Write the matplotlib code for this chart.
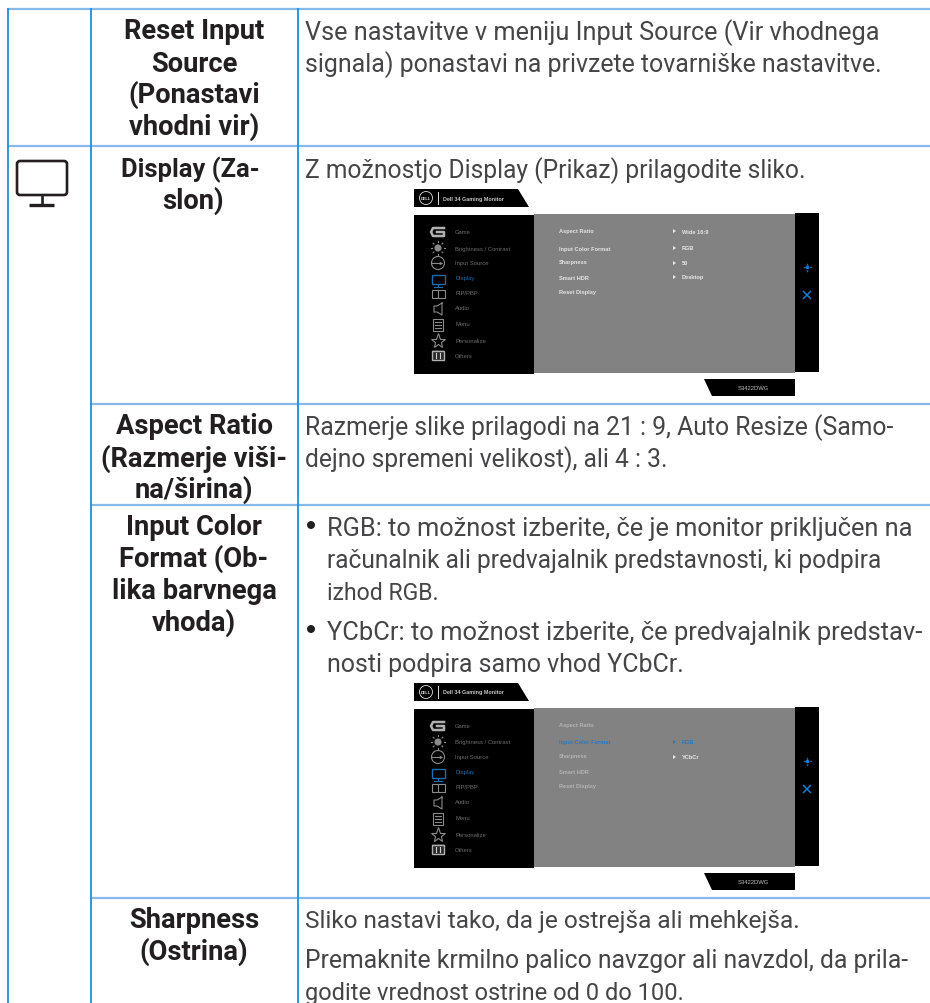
import matplotlib
matplotlib.use('Agg')
import matplotlib.pyplot as plt
from matplotlib.patches import Polygon, Rectangle, Circle, FancyBboxPatch

# Left column headings: text and baseline in pixels
head_lines = ['Reset Input', 'Source', '(Ponastavi', 'vhodni vir)',
              'Display (Za-', 'slon)',
              'Aspect Ratio', '(Razmerje viši-', 'na/širina)',
              'Input Color', 'Format (Ob-', 'lika barvnega', 'vhoda)',
              'Sharpness', '(Ostrina)']
head_base = [39, 72, 103, 135, 177, 209, 434, 467, 498, 535, 567, 599, 631, 928, 960]
head_center = [194, 194, 194, 194, 190, 193, 194, 194, 194, 194, 194, 194, 194, 194, 194]

# Right column text
body_lines = ['Vse nastavitve v meniju Input Source (Vir vhodnega',
              'signala) ponastavi na privzete tovarniške nastavitve.',
              'Z možnostjo Display (Prikaz) prilagodite sliko.',
              'Razmerje slike prilagodi na 21 : 9, Auto Resize (Samo-',
              'dejno spremeni velikost), ali 4 : 3.',
              'Sliko nastavi tako, da je ostrejša ali mehkejša.',
              'Premaknite krmilno palico navzgor ali navzdol, da prila-',
              'godite vrednost ostrine od 0 do 100.']
body_base = [40, 72, 178, 435, 467, 928, 968, 1000]
body_size = [18.2, 17.9, 17.7, 17.87, 17.7, 17.6, 17.8, 17.0]

bullet_lines = ['RGB: to možnost izberite, če je monitor priključen na',
                'računalnik ali predvajalnik predstavnosti, ki podpira',
                'izhod RGB.',
                'YCbCr: to možnost izberite, če predvajalnik predstav-',
                'nosti podpira samo vhod YCbCr.']
bullet_base = [536, 568, 600, 640, 672]
bullet_size = [18.3, 17.66, 16.6, 18.35, 17.95]
bullet_first = [True, False, False, True, False]

# Table rules
rule_y_full = [9.5, 146.5]
rule_y_inner = [404.5, 506, 899]
rule_x = [7.5, 90.5, 297.5]

# On screen menu
menu_items = ['Game', 'Brightness / Contrast', 'Input Source', 'Display', 'PIP/PBP',
              'Audio', 'Menu', 'Personalize', 'Others']
menu_y = [233, 249, 264, 279, 294, 309, 325, 342, 357]
panel_items = ['Aspect Ratio', 'Input Color Format', 'Sharpness', 'Smart HDR', 'Reset Display']
panel_y = [232, 249, 263, 279, 293]
values_a = ['Wide 16:9', 'RGB', '50', 'Desktop']
values_a_y = [232, 249, 264, 278]
values_b = ['RGB', 'YCbCr']
values_b_y = [249, 264]

BLUE = '#1f8ed8'
LIGHT = '#86b9e8'
TEXT = '#454547'
BOLD = '#231f20'
FONT = 'Roboto'
SMALL = 'Liberation Sans'
ICON = '#8a8a8a'
MENU_BLUE = '#1c6cb0'

fig = plt.figure(figsize=(9.3, 10.04), dpi=100)
ax = fig.add_axes([0, 0, 1, 1])
ax.set_xlim(0, 930)
ax.set_ylim(1004, 0)
ax.axis('off')

for y in rule_y_full:
    ax.plot([7, 930], [y, y], color=LIGHT, lw=1.6, solid_capstyle='butt')
for y in rule_y_inner:
    ax.plot([90, 930], [y, y], color=LIGHT, lw=1.6, solid_capstyle='butt')
for x in rule_x:
    ax.plot([x, x], [9, 1004], color=BLUE, lw=1.3, solid_capstyle='butt')

for s, x, y in zip(head_lines, head_center, head_base):
    size = 18.4 if s.startswith('Display') else 19.7
    ax.text(x, y, s, ha='center', va='baseline', fontsize=size, fontweight='bold',
            family=FONT, color=BOLD)
for s, y, size in zip(body_lines, body_base, body_size):
    ax.text(305, y, s, ha='left', va='baseline', fontsize=size, family=FONT, color=TEXT)
for s, y, size, first in zip(bullet_lines, bullet_base, bullet_size, bullet_first):
    ax.text(327, y, s, ha='left', va='baseline', fontsize=size, family=FONT, color=TEXT)
    if first:
        ax.add_patch(Circle((311, y - 10), 4, color=BOLD, lw=0))

# Big monitor icon in the first column
ax.add_patch(FancyBboxPatch((17, 162), 50, 34, boxstyle='round,pad=0,rounding_size=3',
                            fc='none', ec=BOLD, lw=1.9))
ax.plot([42, 42], [197, 205], color=BOLD, lw=1.9)
ax.plot([29, 54], [205.5, 205.5], color=BOLD, lw=2.4, solid_capstyle='butt')


def draw_icons():
    c = 438
    lw = 0.8
    # G
    ax.plot([c + 6, c - 5, c - 7, c - 5, c + 6, c + 6, c - 1], [229, 229, 233, 237, 237, 233, 233],
            color='#b0b0b0', lw=1.8)
    # brightness
    ax.add_patch(Circle((c, 249), 3, fc=ICON, ec=ICON, lw=lw))
    for dx, dy in [(-6, 0), (6, 0), (0, -6), (0, 6), (-4, -4), (4, 4), (-4, 4), (4, -4)]:
        ax.plot([c + dx, c + dx * 1.2], [249 + dy, 249 + dy * 1.2], color=ICON, lw=lw)
    # input source
    ax.add_patch(Circle((c, 264), 6.5, fc='none', ec=ICON, lw=lw))
    ax.plot([c - 7, c + 3], [264, 264], color=ICON, lw=lw)
    ax.plot([c + 3], [264], marker='>', ms=2.5, color=ICON, mew=0)
    # display
    ax.add_patch(Rectangle((c - 6.5, 276), 13, 9, fc='none', ec=MENU_BLUE, lw=1))
    ax.plot([c, c], [285, 287], color=MENU_BLUE, lw=lw)
    ax.plot([c - 4, c + 4], [287.5, 287.5], color=MENU_BLUE, lw=lw)
    # PIP/PBP
    ax.add_patch(Rectangle((c - 6.5, 291), 13, 8, fc='none', ec=ICON, lw=lw))
    ax.plot([c, c], [291, 299], color=ICON, lw=lw)
    # audio
    ax.plot([c + 4, c + 4, c - 1, c - 4, c - 4, c - 1, c + 4], [304, 316, 313, 313, 307, 307, 304],
            color=ICON, lw=lw)
    # menu
    ax.add_patch(Rectangle((c - 5, 320), 10, 12, fc='none', ec=ICON, lw=lw))
    for y in [323, 326, 329]:
        ax.plot([c - 3, c + 3], [y, y], color=ICON, lw=lw)
    # star
    ax.plot([c], [342], marker='*', ms=11, mfc='none', mec=ICON, mew=lw)
    # others
    ax.add_patch(Rectangle((c - 6, 351), 12, 11, fc='#2a2a2a', lw=0))
    ax.add_patch(Rectangle((c - 6, 352), 12, 9, fc='none', ec='#b0b0b0', lw=1))
    ax.plot([c - 2, c - 2], [354, 359], color='#d0d0d0', lw=lw)
    ax.plot([c + 2, c + 2], [354, 359], color='#d0d0d0', lw=lw)


def shift(before, off):
    # move everything added since 'before' down by off pixels
    trans = matplotlib.transforms.Affine2D().translate(0, off) + ax.transData
    for a in ax.get_children():
        if a in before:
            continue
        if isinstance(a, plt.Text):
            a.set_y(a.get_position()[1] + off)
        else:
            a.set_transform(trans)


def draw_screen(off, second):
    before = set(ax.get_children())
    ax.add_patch(Polygon([(414, 190), (518, 190), (529, 208), (414, 208)], fc='black', lw=0))
    ax.add_patch(Circle((426, 199), 6.5, fc='none', ec='#dddddd', lw=0.6))
    ax.text(426, 199, 'DELL', color='#dddddd', fontsize=2.8, fontweight='bold', ha='center',
            va='center', family=SMALL)
    ax.plot([437.5, 437.5], [193, 205], color='#dddddd', lw=0.7)
    ax.text(443, 199, 'Dell 34 Gaming Monitor', color='#c8c8c8', fontsize=3.9, fontweight='bold',
            ha='left', va='center', family=SMALL)
    ax.add_patch(Rectangle((414, 216), 120, 159, fc='black', lw=0))
    ax.add_patch(Rectangle((534, 215), 261, 159, fc='#828282', lw=0))
    ax.add_patch(Rectangle((795, 214), 24, 159, fc='black', lw=0))
    ax.add_patch(Polygon([(704, 380), (795, 380), (795, 397), (712, 397)], fc='black', lw=0))
    ax.text(753, 389, 'S3422DWG', color='#c0c0c0', fontsize=4.2, ha='center', va='center',
            family=SMALL)
    for s, y in zip(menu_items, menu_y):
        col = MENU_BLUE if s == 'Display' else '#6e6e6e'
        ax.text(455, y, s, color=col, fontsize=4.2, ha='left', va='center', family=SMALL)
    for i, (s, y) in enumerate(zip(panel_items, panel_y)):
        col = '#e4e4e4'
        if second:
            col = '#2c78bd' if i == 1 else '#b4b4b4'
        ax.text(559, y, s, color=col, fontsize=4.1, fontweight='bold', ha='left', va='center',
                family=SMALL)
    vals = values_b if second else values_a
    vals_y = values_b_y if second else values_a_y
    for i, (s, y) in enumerate(zip(vals, vals_y)):
        col = '#2c78bd' if second and i == 0 else '#e8e8e8'
        ax.add_patch(Polygon([(673, y - 2), (676, y), (673, y + 2)], fc=col, lw=0))
        ax.text(682, y, s, color=col, fontsize=4.1, fontweight='bold', ha='left', va='center',
                family=SMALL)
    draw_icons()
    # joystick and close marks
    ax.plot([807], [268], marker='o', ms=2.6, color='#1c78c8', mew=0)
    for dx, dy, m in [(-3.5, 0, '<'), (3.5, 0, '>'), (0, -3.5, '^'), (0, 3.5, 'v')]:
        ax.plot([807 + dx], [268 + dy], marker=m, ms=1.6, color='#1c78c8', mew=0)
    ax.plot([803.5, 810.5], [292.5, 299.5], color='#1c78c8', lw=1.1)
    ax.plot([803.5, 810.5], [299.5, 292.5], color='#1c78c8', lw=1.1)
    shift(before, off)


draw_screen(0, False)
draw_screen(494, True)

fig.savefig('out.png', dpi=100)
